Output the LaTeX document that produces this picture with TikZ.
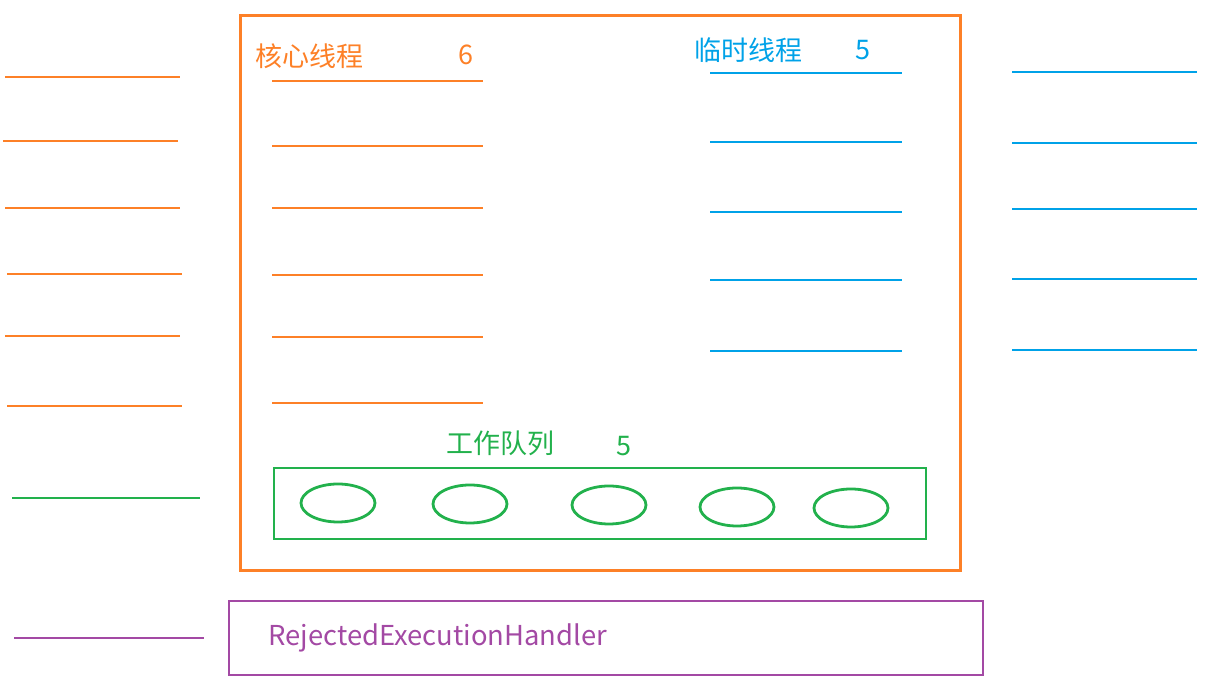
\documentclass[tikz,border=0pt]{standalone}
\usepackage{fontspec}
\setmainfont{Noto Sans CJK SC}
\usetikzlibrary{positioning,shapes.geometric}
\definecolor{coreorange}{RGB}{253,128,39}
\definecolor{tempblue}{RGB}{0,162,232}
\definecolor{queuegreen}{RGB}{34,177,76}
\definecolor{rejectpurple}{RGB}{163,73,164}

\begin{document}
\begin{tikzpicture}[x=0.5pt, y=-0.5pt,
                    core/.style   ={draw=coreorange, line width=1.4pt},
                    temp/.style   ={draw=tempblue, line width=1.4pt},
                    queue/.style  ={draw=queuegreen, line width=1.4pt},
                    reject/.style ={draw=rejectpurple, line width=1.4pt},
                    pool/.style   ={rectangle, draw=coreorange, line width=1.5pt, inner sep=0},
                    task/.style   ={ellipse, draw=queuegreen, line width=1.4pt, minimum width=37pt, minimum height=19pt, inner sep=0},
                    label/.style  ={anchor=west, inner sep=0, font=\fontsize{13.5}{16}\selectfont}]

      \useasboundingbox (0,0) rectangle (1223,695);

      % thread pool
      \draw[pool] (240,16) rectangle (960,571);
      \node[label, text=coreorange] at(255,56)  (corelbl)  {核心线程};
      \node[label, text=coreorange] at(458,55)  (corenum)  {6};
      \node[label, text=tempblue]   at(694,50)  (templbl)  {临时线程};
      \node[label, text=tempblue]   at(855,50)  (tempnum)  {5};
      \node[label, text=queuegreen] at(446,443) (queuelbl) {工作队列};
      \node[label, text=queuegreen] at(616,446) (queuenum) {5};

      % core threads
      \draw[core] (272,81)  -- (483,81);
      \draw[core] (272,146) -- (483,146);
      \draw[core] (272,208) -- (483,208);
      \draw[core] (272,275) -- (483,275);
      \draw[core] (272,337) -- (483,337);
      \draw[core] (272,403) -- (483,403);

      % temporary threads
      \draw[temp] (710,73)  -- (902,73);
      \draw[temp] (710,142) -- (902,142);
      \draw[temp] (710,212) -- (902,212);
      \draw[temp] (710,280) -- (902,280);
      \draw[temp] (710,351) -- (902,351);

      % work queue
      \draw[queue] (274,468) rectangle (926,539);
      \path (338,503) node[task] (t1) {};
      \path (470,504) node[task] (t2) {};
      \path (609,505) node[task] (t3) {};
      \path (737,507) node[task] (t4) {};
      \path (851,508) node[task] (t5) {};

      % rejection handler
      \draw[reject] (229,601) rectangle (983,675);
      \node[label, text=rejectpurple, font=\fontsize{13.7}{16}\selectfont] at(268,638) (handler) {RejectedExecutionHandler};

      % incoming tasks
      \draw[core]   (5,77)   -- (180,77);
      \draw[core]   (3,141)  -- (178,141);
      \draw[core]   (5,208)  -- (180,208);
      \draw[core]   (7,274)  -- (182,274);
      \draw[core]   (5,336)  -- (180,336);
      \draw[core]   (7,406)  -- (182,406);
      \draw[queue]  (12,498) -- (200,498);
      \draw[reject] (14,638) -- (204,638);
      \draw[temp]   (1012,72)  -- (1197,72);
      \draw[temp]   (1012,143) -- (1197,143);
      \draw[temp]   (1012,209) -- (1197,209);
      \draw[temp]   (1012,279) -- (1197,279);
      \draw[temp]   (1012,350) -- (1197,350);
    \end{tikzpicture}
\end{document}
